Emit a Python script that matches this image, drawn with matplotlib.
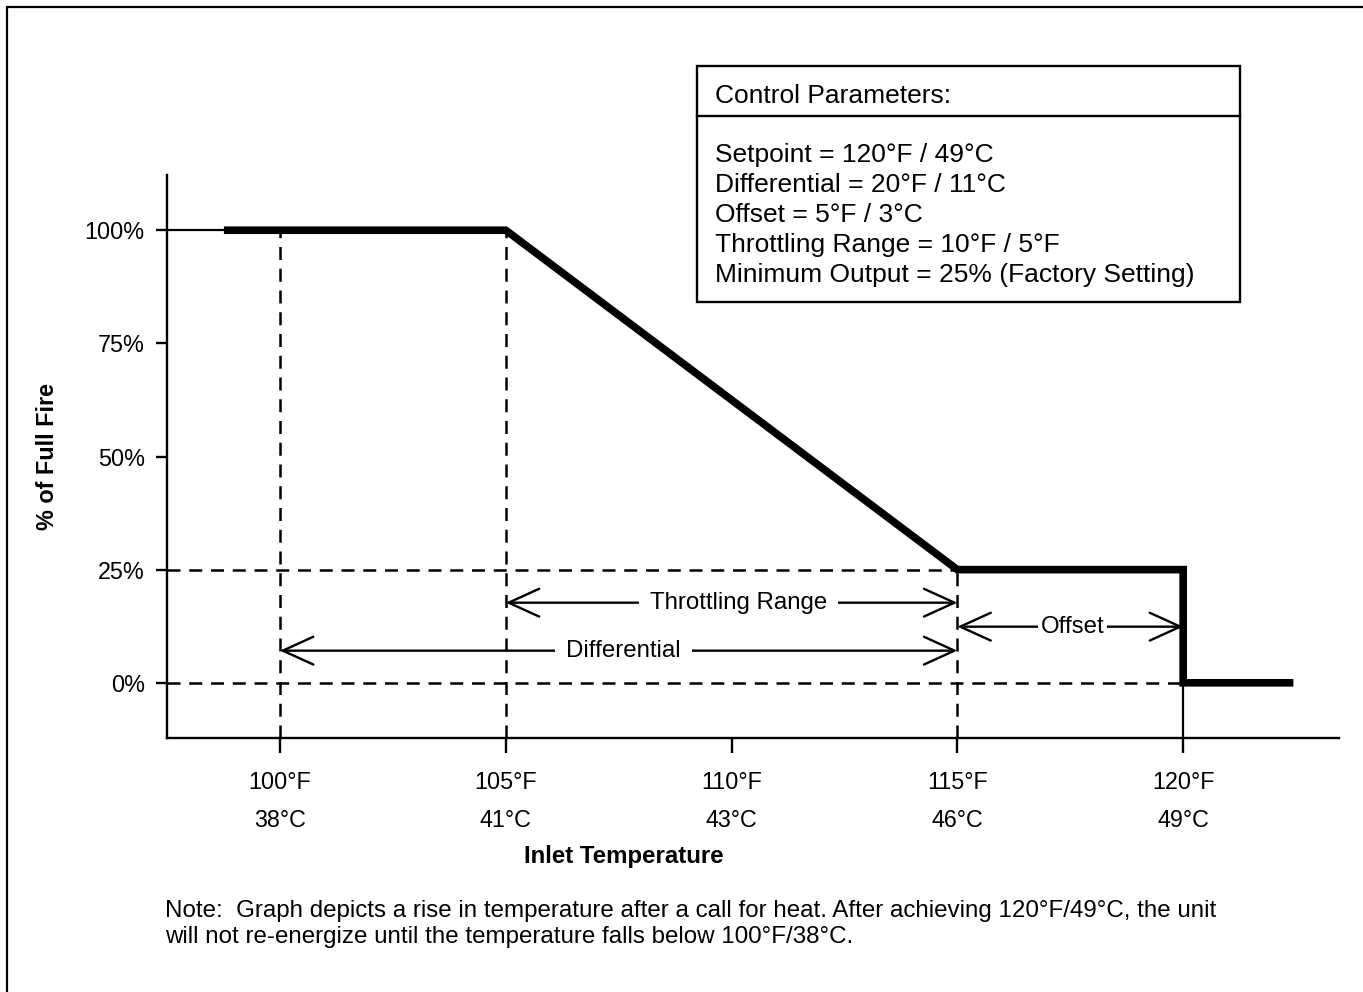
import matplotlib
matplotlib.use("Agg")
import matplotlib.pyplot as plt
from matplotlib.patches import Rectangle
from matplotlib.lines import Line2D

plt.rcParams['font.family'] = ['Liberation Sans', 'DejaVu Sans']

W, H = 1363, 992

# data
temps_f = [100, 105, 110, 115, 120]
temps_c = [38, 41, 43, 46, 49]
pct_ticks = [0, 25, 50, 75, 100]
curve_x = [98.76, 105, 115, 120, 120, 122.44]
curve_y = [100, 100, 25, 25, 0, 0]
lead_x = [97.5, 98.76]
lead_y = [100, 100]

# dimension arrows: (label, start, end, y, label x)
spans = [
    ("Throttling Range", 105, 115, 17.7, 110.15),
    ("Differential", 100, 115, 7.1, 107.6),
    ("Offset", 115, 120, 12.4, 117.55),
]

params_title = "Control Parameters:"
params_lines = [
    "Setpoint = 120°F / 49°C",
    "Differential = 20°F / 11°C",
    "Offset = 5°F / 3°C",
    "Throttling Range = 10°F / 5°F",
    "Minimum Output = 25% (Factory Setting)",
]
note = ("Note:  Graph depicts a rise in temperature after a call for heat. After achieving 120°F/49°C, the unit\n"
        "will not re-energize until the temperature falls below 100°F/38°C.")


def fx(x):
    return x / W


def fy(y):
    return 1 - y / H


fig = plt.figure(figsize=(W / 100, H / 100), dpi=100)
ax = fig.add_axes([fx(167), fy(738), fx(1339) - fx(167), fy(175) - fy(738)])

ax.set_xlim(97.5, 123.45)
ax.set_ylim(-12.2, 112.2)
for s in ['top', 'right']:
    ax.spines[s].set_visible(False)
for s in ['left', 'bottom']:
    ax.spines[s].set_linewidth(1.7)

ax.set_xticks(temps_f)
ax.set_xticklabels([f"{f}°F\n{c}°C" for f, c in zip(temps_f, temps_c)], linespacing=1.8)
ax.set_yticks(pct_ticks)
ax.set_yticklabels([f"{p}%" for p in pct_ticks])
ax.tick_params(axis='x', length=11, width=1.7, pad=13, labelsize=16.8)
ax.tick_params(axis='y', length=8, width=1.7, pad=8, labelsize=16.8)

# dashed guides
dash = dict(color='black', lw=1.8, dashes=(5.2, 3.5))
ymin = ax.get_ylim()[0]
xmin = ax.get_xlim()[0]
ax.plot([100, 100], [ymin, 100], **dash)
ax.plot([105, 105], [ymin, 100], **dash)
ax.plot([115, 115], [ymin, 25], **dash)
ax.plot([xmin, 115], [25, 25], **dash)
ax.plot([xmin, 120], [0, 0], **dash)
ax.plot([120, 120], [ymin, 0], color='black', lw=1.6)

# output curve
ax.plot(lead_x, lead_y, color='black', lw=1.6)
ax.plot(curve_x, curve_y, color='black', lw=5.5, solid_joinstyle='miter', solid_capstyle='butt')

for label, x0, x1, y, lx in spans:
    ax.annotate("", xy=(x0, y), xytext=(x1, y),
                arrowprops=dict(arrowstyle='<->,head_length=2.2,head_width=1.0',
                                mutation_scale=10, lw=1.7, color='black',
                                shrinkA=0, shrinkB=0))
    ax.text(lx, y, label, ha='center', va='center', fontsize=17.3,
            bbox=dict(facecolor='white', edgecolor='none', pad=2 if label == "Offset" else 8))

fig.text(fx(624), fy(856), "Inlet Temperature", ha='center', va='center',
         fontsize=17.3, fontweight='bold')
fig.text(fx(48), fy(457), "% of Full Fire", rotation=90, ha='center', va='center',
         fontsize=16.8, fontweight='bold')

# parameter box
fig.add_artist(Rectangle((fx(697), fy(302)), fx(1240) - fx(697), fy(66) - fy(302),
                         transform=fig.transFigure, facecolor='none', edgecolor='black', lw=1.7))
fig.add_artist(Line2D([fx(697), fx(1240)], [fy(116), fy(116)], transform=fig.transFigure,
                      color='black', lw=1.7))
fig.text(fx(715), fy(96), params_title, ha='left', va='center', fontsize=19)
for i, line in enumerate(params_lines):
    fig.text(fx(715), fy(155 + 30 * i), line, ha='left', va='center', fontsize=19)

fig.text(fx(165), fy(924), note, ha='left', va='center', fontsize=17.4, linespacing=1.28)

# outer frame
fig.add_artist(Rectangle((fx(7), -0.1), 1.2, fy(7) + 0.1, transform=fig.transFigure,
                         facecolor='none', edgecolor='black', lw=1.6))

fig.savefig("out.png", dpi=100)
